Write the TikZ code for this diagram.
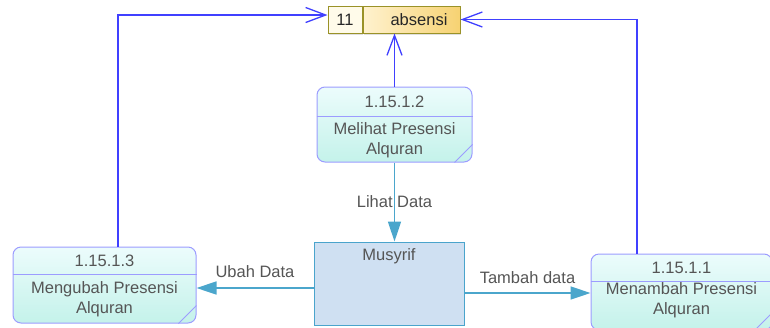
\documentclass[tikz,border=0pt]{standalone}
\usepackage{fontspec}
\setmainfont{Liberation Sans}
\usepackage{xcolor}
\usepackage{tikz}
\usetikzlibrary{arrows.meta, positioning, shadows}
\definecolor{procedge}{HTML}{9C9CFF}
\definecolor{proctop}{HTML}{ECFCFC}
\definecolor{procbot}{HTML}{C4F2EA}
\definecolor{entedge}{HTML}{4AA4CC}
\definecolor{entfill}{HTML}{CFE0F2}
\definecolor{flowline}{HTML}{4BA6CC}
\definecolor{linkline}{HTML}{4040FF}
\definecolor{storeedge}{HTML}{9A9228}
\definecolor{storeid}{HTML}{FFFBEA}
\definecolor{storeleft}{HTML}{FFF2CF}
\definecolor{storeright}{HTML}{F6D272}
\definecolor{textgray}{HTML}{555555}
\tikzset{
	proc/.style={draw=procedge, line width=1pt, rounded corners=8pt,
		top color=proctop, bottom color=procbot, minimum height=76pt, inner sep=0pt},
	procline/.style={draw=procedge, line width=1pt},
	entity/.style={draw=entedge, line width=1pt, fill=entfill, inner sep=0pt},
	storebox/.style={draw=storeedge, line width=1pt, minimum height=27pt, inner sep=0pt,
		text=black!85, drop shadow={shadow xshift=1pt, shadow yshift=-2pt, opacity=0.25}},
	lbl/.style={text=textgray, align=center, inner sep=1pt},
	flow/.style={-{Triangle[length=20pt, width=13pt]}, line width=1.5pt, flowline},
	link/.style={-{Straight Barb[length=20pt, width=15pt]}, line width=1.3pt, linkline},
}

\begin{document}
\begin{tikzpicture}[x=1pt, y=-1pt, font=\fontsize{16.5}{20}\selectfont]
	\useasboundingbox (0,0) rectangle (770,327);
	\clip (0,0) rectangle (770,327);
	% data store
	\node[storebox, fill=storeid, minimum width=34pt] (storeid) at (345,19.5) {11};
	\node[storebox, left color=storeleft, right color=storeright, minimum width=97pt,
		right=0pt of storeid] (store) {\hspace{15pt}absensi};
	% processes
	\node[proc, minimum width=155pt, minimum height=75pt] (melihat) at (394.5,124.5) {};
	\node[proc, minimum width=183pt] (mengubah) at (104.5,285) {};
	\node[proc, minimum width=181pt] (menambah) at (681.5,292) {};
	\draw[procline] ([yshift=-30pt]melihat.north west) -- ([yshift=-30pt]melihat.north east);
	\draw[procline] ([yshift=-28pt]mengubah.north west) -- ([yshift=-28pt]mengubah.north east);
	\draw[procline] ([yshift=-28pt]menambah.north west) -- ([yshift=-28pt]menambah.north east);
	\draw[procline] ([xshift=-18pt]melihat.south east) -- ([yshift=18pt]melihat.south east);
	\draw[procline] ([xshift=-18pt]mengubah.south east) -- ([yshift=18pt]mengubah.south east);
	\draw[procline] ([xshift=-18pt]menambah.south east) -- ([yshift=18pt]menambah.south east);
	\node[lbl] (melihatid) at ([yshift=-15pt]melihat.north) {1.15.1.2};
	\node[lbl] (melihattxt) at ([yshift=22.5pt]melihat.south) {Melihat Presensi\\Alquran};
	\node[lbl] (mengubahid) at ([yshift=-14pt]mengubah.north) {1.15.1.3};
	\node[lbl] (mengubahtxt) at ([yshift=24pt]mengubah.south) {Mengubah Presensi\\Alquran};
	\node[lbl] (menambahid) at ([yshift=-14pt]menambah.north) {1.15.1.1};
	\node[lbl] (menambahtxt) at ([yshift=30pt]menambah.south) {Menambah Presensi\\Alquran};
	% external entity
	\node[entity, minimum width=150pt, minimum height=83pt] (musyrif) at (389,283.5) {};
	\node[lbl] (musyriftxt) at ([yshift=-15pt]musyrif.north) {Musyrif};
	% connectors
	\draw[link] ([xshift=13.5pt]mengubah.north) |- ([yshift=4.5pt]storeid.west);
	\draw[link] ([xshift=-44.5pt]menambah.north) |- (store.east);
	\draw[link] (melihat.north) -- (melihat.north |- store.south);
	\draw[flow] (melihat.south) -- (melihat.south |- musyrif.north)
		node[lbl, midway] {Lihat Data};
	\draw[flow] ([yshift=-4.5pt]musyrif.west) -- ([yshift=-4.5pt]musyrif.west -| mengubah.east)
		node[lbl, midway, yshift=16pt] {Ubah Data};
	\draw[flow] ([yshift=-9.5pt]musyrif.east) -- ([yshift=-9.5pt]musyrif.east -| menambah.west)
		node[lbl, midway, yshift=15pt] {Tambah data};
\end{tikzpicture}
\end{document}
